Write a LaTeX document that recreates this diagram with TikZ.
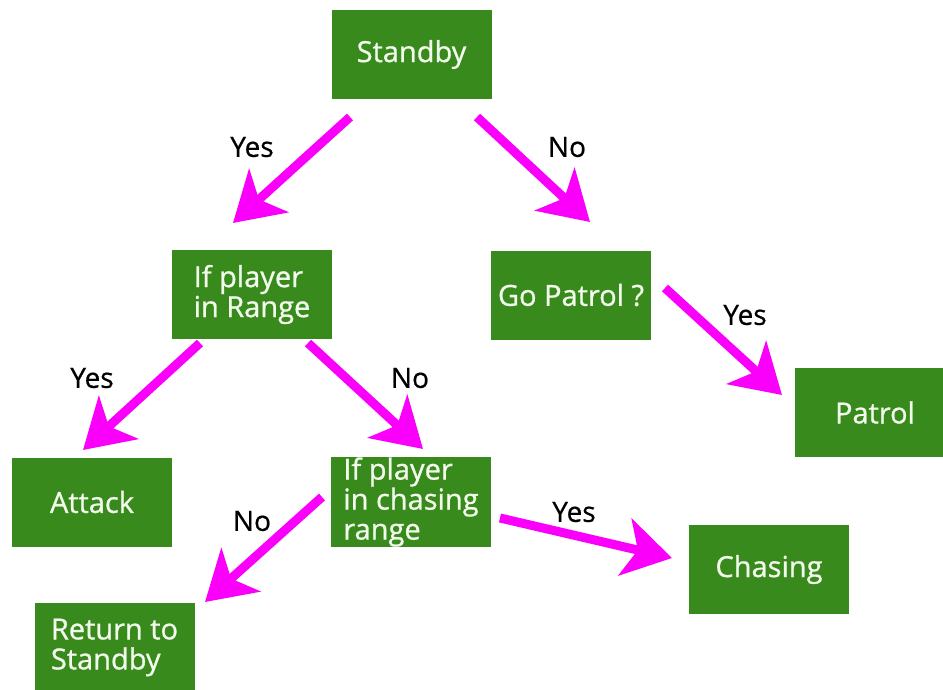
\documentclass[tikz,border=0pt]{standalone}
\usepackage{fontspec}
\setmainfont{Open Sans}
\newfontfamily\boxfont{Open Sans}[FakeBold=0.9]
\newfontfamily\labelfont{Open Sans}[FakeBold=0.6]
\usetikzlibrary{arrows.meta}
\definecolor{boxgreen}{RGB}{56,138,28}
\definecolor{boxtext}{RGB}{242,250,236}
\definecolor{arrowmag}{RGB}{250,0,250}
\tikzset{
  statebox/.style={rectangle, fill=boxgreen, text=boxtext, minimum width=160pt,
    minimum height=89pt, inner sep=0pt, align=left, font=\boxfont\fontsize{29}{30}\selectfont},
  flowarrow/.style={draw=arrowmag, line width=9pt,
    -{Stealth[length=48pt,width=58pt,inset=13pt]}},
  answer/.style={text=black, font=\labelfont\fontsize{28}{30}\selectfont, inner sep=0pt}
}
\begin{document}
\begin{tikzpicture}[x=1pt,y=-1pt]
\useasboundingbox[fill=white] (0,0) rectangle (943,690);
% boxes
\node[statebox] (standby) at (411.5,54.5) {Standby};
\node[statebox] (range) at (252,294.5) {If player\\in Range};
\node[statebox] (gopatrol) at (571,295) {Go Patrol ?};
\node[statebox] (patrol) at (875,412.5) {Patrol};
\node[statebox] (attack) at (92,502) {Attack};
\node[statebox] (chrange) at (411,502) {\rule{0pt}{0pt}If player\\in chasing\\range};
\node[statebox] (ret) at (114.5,647.5) {Return to\\Standby};
\node[statebox] (chasing) at (769,569.5) {Chasing};
% arrow end points
\coordinate (s1) at (350,117); \coordinate (t1) at (233,223);
\coordinate (s2) at (477,117); \coordinate (t2) at (590,222);
\coordinate (s3) at (200,343); \coordinate (t3) at (83,450);
\coordinate (s4) at (308,343); \coordinate (t4) at (423,449);
\coordinate (s5) at (665,288); \coordinate (t5) at (782,395);
\coordinate (s6) at (322,497); \coordinate (t6) at (205,602);
\coordinate (s7) at (500,518); \coordinate (t7) at (672,558);
% arrows
\draw[flowarrow] (s1) -- (t1);
\draw[flowarrow] (s2) -- (t2);
\draw[flowarrow] (s3) -- (t3);
\draw[flowarrow] (s4) -- (t4);
\draw[flowarrow] (s5) -- (t5);
\draw[flowarrow] (s6) -- (t6);
\draw[flowarrow] (s7) -- (t7);
% labels
\node[answer] (l1) at (252,147) {Yes};
\node[answer] (l2) at (567,147) {No};
\node[answer] (l3) at (92,378) {Yes};
\node[answer] (l4) at (410,378) {No};
\node[answer] (l5) at (745,315) {Yes};
\node[answer] (l6) at (252,521) {No};
\node[answer] (l7) at (574,512) {Yes};
\end{tikzpicture}
\end{document}
